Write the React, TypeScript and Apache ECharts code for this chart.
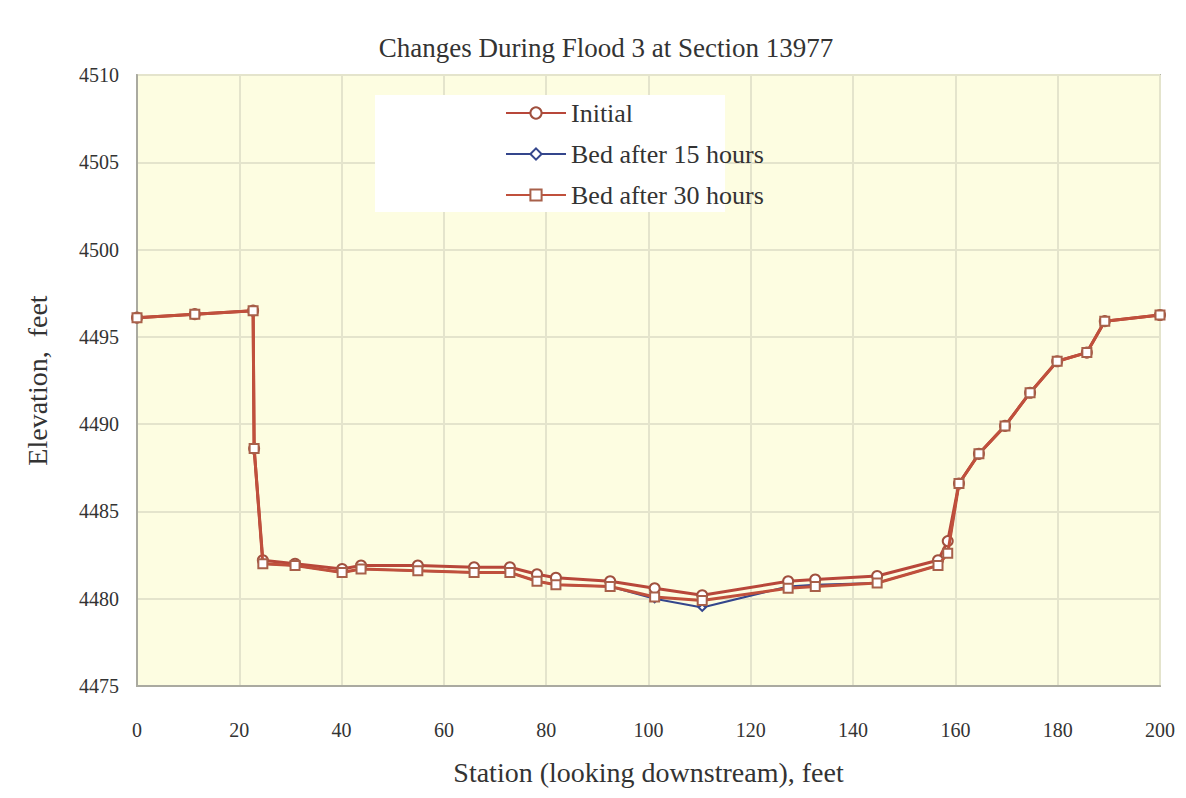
import React, { useEffect, useRef } from "react";
import * as echarts from "echarts";

const stations = [0, 11.3, 22.7, 22.9, 24.6, 30.9, 40.1, 43.8, 54.9, 65.9, 72.9, 78.2, 81.9, 92.5, 101.2, 110.5, 127.3, 132.6, 144.7, 156.6, 158.5, 160.7, 164.6, 169.7, 174.6, 179.9, 185.7, 189.2, 200];
const initialBed = [4496.1, 4496.3, 4496.5, 4488.6, 4482.2, 4482.0, 4481.7, 4481.9, 4481.9, 4481.8, 4481.8, 4481.4, 4481.2, 4481.0, 4480.6, 4480.2, 4481.0, 4481.1, 4481.3, 4482.2, 4483.3, 4486.6, 4488.3, 4489.9, 4491.8, 4493.6, 4494.1, 4495.9, 4496.25];
const bed15 = [4496.1, 4496.3, 4496.5, 4488.6, 4482.0, 4481.9, 4481.5, 4481.7, 4481.6, 4481.5, 4481.5, 4481.0, 4480.8, 4480.7, 4480.0, 4479.5, 4480.7, 4480.8, 4480.9, 4481.9, 4482.6, 4486.6, 4488.3, 4489.9, 4491.8, 4493.6, 4494.1, 4495.9, 4496.25];
const bed30 = [4496.1, 4496.3, 4496.5, 4488.6, 4482.0, 4481.9, 4481.5, 4481.7, 4481.6, 4481.5, 4481.5, 4481.0, 4480.8, 4480.7, 4480.1, 4479.9, 4480.6, 4480.7, 4480.9, 4481.9, 4482.6, 4486.6, 4488.3, 4489.9, 4491.8, 4493.6, 4494.1, 4495.9, 4496.25];

const seriesNames = ["Initial", "Bed after 15 hours", "Bed after 30 hours"];
const titleText = "Changes During Flood 3 at Section 13977";
const xName = "Station (looking downstream), feet";
const yName = "Elevation,  feet";

const pairs = (ys: number[]) => stations.map((x, i) => [x, ys[i]]);

export default function App() {
  const ref = useRef<HTMLDivElement>(null);
  useEffect(() => {
    if (!ref.current) return;
    const chart = echarts.init(ref.current, undefined, { renderer: "svg" });
    const font = "'Liberation Serif', 'DejaVu Serif', serif";
    chart.setOption({
      animation: false,
      backgroundColor: "#ffffff",
      textStyle: { fontFamily: font },
      title: {
        text: titleText,
        left: 601,
        textAlign: "center",
        top: 29,
        textStyle: { fontFamily: font, fontSize: 27, fontWeight: "normal", color: "#333" },
      },
      graphic: [
        {
          type: "rect",
          z: 1,
          shape: { x: 375, y: 95, width: 350, height: 117 },
          style: { fill: "#ffffff" },
        },
      ],
      legend: {
        orient: "vertical",
        left: 500,
        top: 95,
        itemWidth: 60,
        itemHeight: 14,
        itemGap: 15,
        textStyle: { fontFamily: font, fontSize: 26, color: "#333" },
        data: seriesNames,
      },
      grid: {
        left: 137,
        right: 26,
        top: 75,
        bottom: 112,
        show: true,
        backgroundColor: "#fdfde1",
        borderColor: "#b5b5a8",
        borderWidth: 2,
      },
      xAxis: {
        type: "value",
        min: 0,
        max: 200,
        interval: 20,
        name: xName,
        nameLocation: "middle",
        nameGap: 72,
        nameTextStyle: { fontFamily: font, fontSize: 28, color: "#333" },
        axisLine: { show: true, lineStyle: { color: "#aaaaa0", width: 2 } },
        axisTick: { show: false },
        axisLabel: { margin: 34, fontFamily: font, fontSize: 20, color: "#333" },
        splitLine: { show: true, lineStyle: { color: "#e4e4cc", width: 2 } },
      },
      yAxis: {
        type: "value",
        min: 4475,
        max: 4510,
        interval: 5,
        name: yName,
        nameLocation: "middle",
        nameGap: 86,
        nameTextStyle: { fontFamily: font, fontSize: 28, color: "#333" },
        axisLine: { show: true, lineStyle: { color: "#aaaaa0", width: 2 } },
        axisTick: { show: false },
        axisLabel: {
          margin: 18,
          fontFamily: font,
          fontSize: 20,
          color: "#333",
          formatter: (v: number) => String(v),
        },
        splitLine: { show: true, lineStyle: { color: "#e4e4cc", width: 2 } },
      },
      series: [
        {
          name: seriesNames[0],
          type: "line",
          data: pairs(initialBed),
          symbol: "emptyCircle",
          symbolSize: 10,
          lineStyle: { color: "#b8473a", width: 3 },
          itemStyle: { color: "#a0503e", borderColor: "#a0503e", borderWidth: 2 },
          z: 3,
        },
        {
          name: seriesNames[1],
          type: "line",
          data: pairs(bed15),
          symbol: "emptyDiamond",
          symbolSize: 7,
          lineStyle: { color: "#34468c", width: 2 },
          itemStyle: { color: "#34468c", borderColor: "#34468c", borderWidth: 1.5 },
          z: 2,
        },
        {
          name: seriesNames[2],
          type: "line",
          data: pairs(bed30),
          symbol: "emptyRect",
          symbolSize: 9,
          lineStyle: { color: "#c0503c", width: 3 },
          itemStyle: { color: "#a8604a", borderColor: "#a8604a", borderWidth: 2 },
          z: 4,
        },
      ],
    });
    return () => chart.dispose();
  }, []);
  return (
    <div
      ref={ref}
      style={{ position: "fixed", left: 0, top: 0, width: 1186, height: 798 }}
    />
  );
}
